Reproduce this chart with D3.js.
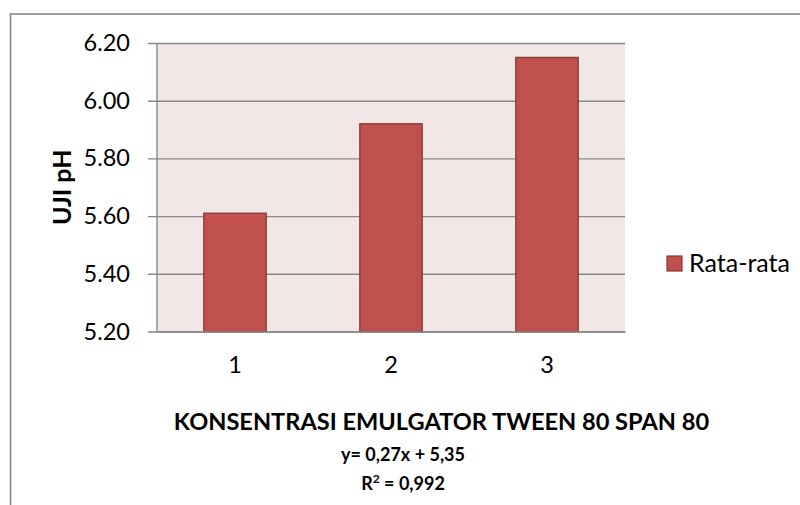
<!DOCTYPE html>
<html>
<head>
<meta charset="utf-8">
<script src="https://cdn.jsdelivr.net/npm/d3@7"></script>
<style>
  body { margin: 0; background: #fff; }
  svg { display: block; font-family: Lato, "Open Sans", sans-serif; }
</style>
</head>
<body>
<svg id="chart" width="800" height="505"></svg>
<script>
const categories = ["1", "2", "3"];
const values = [5.61, 5.92, 6.15];
const yTicks = [5.2, 5.4, 5.6, 5.8, 6.0, 6.2];
const seriesName = "Rata-rata";
const xTitle = "KONSENTRASI EMULGATOR TWEEN 80 SPAN 80";
const yTitle = "UJI pH";
const equation = "y= 0,27x + 5,35";

const width = 800;
const height = 505;
const plot = { left: 157, right: 625, top: 43, bottom: 331.5 };

const svg = d3.select("#chart");

// chart border (runs off the bottom / right of the picture)
svg.append("rect")
  .attr("x", 10.5).attr("y", 14)
  .attr("width", 800).attr("height", 600)
  .attr("fill", "#fff")
  .attr("stroke", "#888")
  .attr("stroke-width", 1.6);

const xScale = d3.scaleBand()
  .domain(categories)
  .range([plot.left, plot.right])
  .paddingInner(0.6)
  .paddingOuter(0.3);

const yScale = d3.scaleLinear()
  .domain([5.2, 6.2])
  .range([plot.bottom, plot.top]);

// plot area background
svg.append("rect")
  .attr("x", plot.left).attr("y", plot.top)
  .attr("width", plot.right - plot.left)
  .attr("height", plot.bottom - plot.top)
  .attr("fill", "#F2E7E7");

// y axis with gridlines
const yAxis = d3.axisLeft(yScale)
  .tickValues(yTicks)
  .tickFormat(d3.format(".2f"))
  .tickSize(-(plot.right - plot.left))
  .tickPadding(27);

svg.append("g")
  .attr("transform", `translate(${plot.left},0)`)
  .call(yAxis)
  .call(g => g.select(".domain").remove())
  .call(g => g.selectAll(".tick line")
    .attr("x1", -9)
    .attr("stroke", "#888")
    .attr("stroke-width", 1.4))
  .call(g => g.selectAll(".tick text")
    .attr("font-size", 23.5)
    .attr("fill", "#000")
    .attr("font-family", "Lato, sans-serif"));

// vertical axis line
svg.append("line")
  .attr("x1", plot.left).attr("x2", plot.left)
  .attr("y1", plot.top).attr("y2", plot.bottom)
  .attr("stroke", "#888")
  .attr("stroke-width", 1.4);

// bars
svg.selectAll(".bar")
  .data(values)
  .join("rect")
  .attr("class", "bar")
  .attr("x", (d, i) => xScale(categories[i]))
  .attr("y", d => yScale(d))
  .attr("width", xScale.bandwidth())
  .attr("height", d => yScale(5.2) - yScale(d))
  .attr("fill", "#C0504D")
  .attr("stroke", "#8C3836")
  .attr("stroke-width", 1.3);

// x axis
const xAxis = d3.axisBottom(xScale).tickSize(0).tickPadding(25);
svg.append("g")
  .attr("transform", `translate(0,${plot.bottom})`)
  .call(xAxis)
  .call(g => g.select(".domain")
    .attr("stroke", "#888")
    .attr("stroke-width", 1.4))
  .call(g => g.selectAll(".tick text")
    .attr("font-size", 23.5)
    .attr("fill", "#000")
    .attr("font-family", "Lato, sans-serif"));

// y title
svg.append("text")
  .attr("transform", `translate(71,${(plot.top + plot.bottom) / 2}) rotate(-90)`)
  .attr("text-anchor", "middle")
  .attr("font-size", 25)
  .attr("font-weight", "bold")
  .text(yTitle);

// x title and regression lines
svg.append("text")
  .attr("x", 441.5).attr("y", 430)
  .attr("text-anchor", "middle")
  .attr("font-size", 23.6)
  .attr("font-weight", "bold")
  .text(xTitle);

svg.append("text")
  .attr("x", 403).attr("y", 461)
  .attr("text-anchor", "middle")
  .attr("font-size", 18)
  .attr("font-weight", "bold")
  .text(equation);

const r2 = svg.append("text")
  .attr("x", 403).attr("y", 490)
  .attr("text-anchor", "middle")
  .attr("font-size", 18)
  .attr("font-weight", "bold");
r2.append("tspan").text("R");
r2.append("tspan").attr("font-size", 12).attr("dy", -7).text("2");
r2.append("tspan").attr("dy", 7).text(" = 0,992");

// legend
const legend = svg.append("g").attr("transform", "translate(667,256)");
legend.append("rect")
  .attr("width", 15).attr("height", 15)
  .attr("fill", "#C0504D")
  .attr("stroke", "#8C3836")
  .attr("stroke-width", 1.2);
legend.append("text")
  .attr("x", 22).attr("y", 16)
  .attr("font-size", 25)
  .text(seriesName);
</script>
</body>
</html>
